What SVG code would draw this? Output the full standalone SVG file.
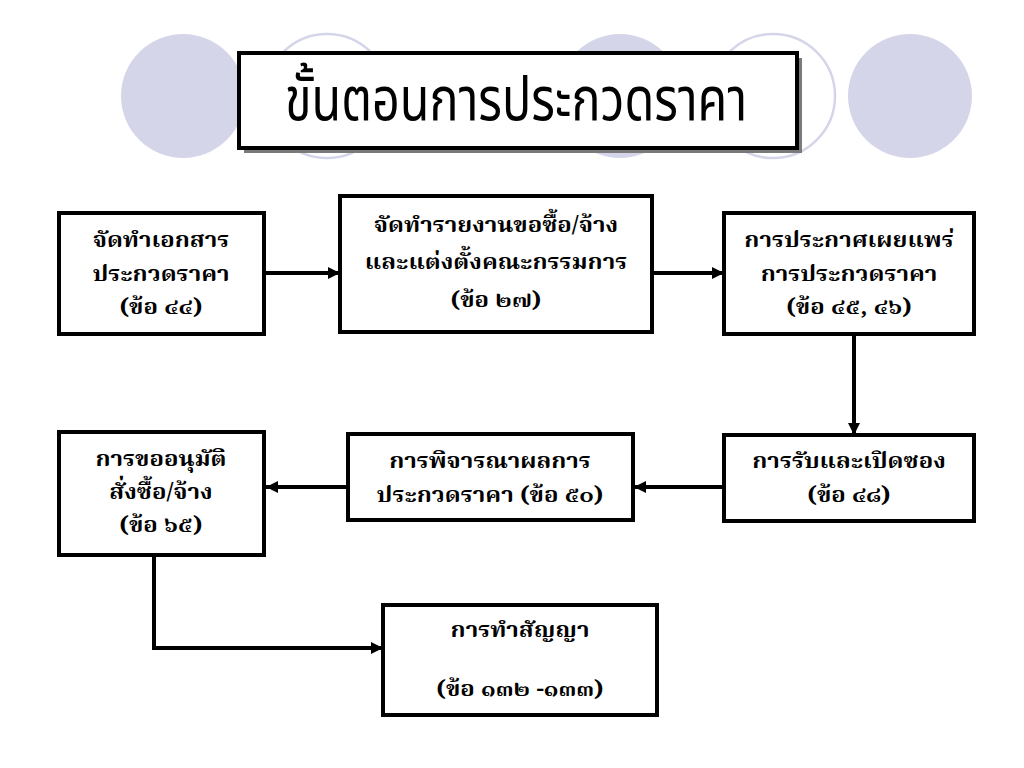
<svg xmlns="http://www.w3.org/2000/svg" width="1024" height="768" viewBox="0 0 1024 768">
<defs>
<style>
.bg{fill:#d5d5ea;}
.ring{fill:none;stroke:#d5d5ea;stroke-width:2.5;}
.box{fill:#fff;stroke:#000;stroke-width:4;}
.t{font-family:"Noto Serif Thai","Norasi","Laksaman","Noto Sans Thai","Noto Sans","DejaVu Sans",sans-serif;font-weight:bold;font-size:22px;fill:#000;text-anchor:middle;}
.title{font-family:"Noto Sans Thai","Noto Sans","DejaVu Sans",sans-serif;font-size:50px;fill:#000;text-anchor:middle;}
.conn{fill:none;stroke:#000;stroke-width:4;}
</style>
<marker id="ah" viewBox="0 0 10 10" refX="10" refY="5" markerWidth="3" markerHeight="3" orient="auto" markerUnits="strokeWidth">
<path d="M0,0 L10,5 L0,10 z" fill="#000"/>
</marker>
</defs>
<rect width="1024" height="768" fill="#fff"/>
<g id="background">
<circle class="bg" cx="183" cy="96" r="62"/>
<circle class="ring" cx="327" cy="96" r="62"/>
<circle class="bg" cx="620" cy="96" r="62"/>
<circle class="ring" cx="773" cy="96" r="62"/>
<circle class="bg" cx="910" cy="96" r="62"/>
</g>
<g id="title">
<rect x="244" y="58" width="558" height="95" fill="#7a7a7a"/>
<rect x="239" y="53" width="558" height="95" fill="#fff" stroke="#000" stroke-width="4"/>
<text class="title" transform="translate(516,120) scale(0.97,1.2)">ขั้นตอนการประกวดราคา</text>
</g>
<g id="connectors">
<line class="conn" x1="264" y1="273" x2="340" y2="273" marker-end="url(#ah)"/>
<line class="conn" x1="652" y1="273" x2="724" y2="273" marker-end="url(#ah)"/>
<line class="conn" x1="854" y1="335" x2="854" y2="435" marker-end="url(#ah)"/>
<line class="conn" x1="724" y1="487" x2="634" y2="487" marker-end="url(#ah)"/>
<line class="conn" x1="348" y1="487" x2="266" y2="487" marker-end="url(#ah)"/>
<polyline class="conn" points="154,555 154,648 383,648" marker-end="url(#ah)"/>
</g>
<g id="node-a">
<rect class="box" x="59" y="213" width="205" height="121"/>
<text class="t" transform="translate(161,247) scale(1.09,1)">จัดทำเอกสาร</text>
<text class="t" transform="translate(161,281) scale(1.09,1)">ประกวดราคา</text>
<text class="t" transform="translate(161,314) scale(1.09,1)">(ข้อ ๔๔)</text>
</g>
<g id="node-b">
<rect class="box" x="340" y="196" width="312" height="136"/>
<text class="t" transform="translate(496,232) scale(1.09,1)">จัดทำรายงานขอซื้อ/จ้าง</text>
<text class="t" transform="translate(496,269) scale(1.09,1)">และแต่งตั้งคณะกรรมการ</text>
<text class="t" transform="translate(496,307) scale(1.09,1)">(ข้อ ๒๗)</text>
</g>
<g id="node-c">
<rect class="box" x="724" y="213" width="250" height="121"/>
<text class="t" transform="translate(849,247) scale(1.09,1)">การประกาศเผยแพร่</text>
<text class="t" transform="translate(849,281) scale(1.09,1)">การประกวดราคา</text>
<text class="t" transform="translate(849,314) scale(1.09,1)">(ข้อ  ๔๕, ๔๖)</text>
</g>
<g id="node-d">
<rect class="box" x="724" y="435" width="250" height="86"/>
<text class="t" transform="translate(849,468) scale(1.09,1)">การรับและเปิดซอง</text>
<text class="t" transform="translate(849,502) scale(1.09,1)">(ข้อ ๔๘)</text>
</g>
<g id="node-e">
<rect class="box" x="348" y="434" width="285" height="86"/>
<text class="t" transform="translate(490,468) scale(1.09,1)">การพิจารณาผลการ</text>
<text class="t" transform="translate(490,502) scale(1.09,1)">ประกวดราคา (ข้อ ๕๐)</text>
</g>
<g id="node-f">
<rect class="box" x="59" y="432" width="205" height="123"/>
<text class="t" transform="translate(161,466) scale(1.09,1)">การขออนุมัติ</text>
<text class="t" transform="translate(161,499) scale(1.09,1)">สั่งซื้อ/จ้าง</text>
<text class="t" transform="translate(161,532) scale(1.09,1)">(ข้อ ๖๕)</text>
</g>
<g id="node-g">
<rect class="box" x="383" y="605" width="274" height="110"/>
<text class="t" transform="translate(520,637) scale(1.09,1)">การทำสัญญา</text>
<text class="t" transform="translate(520,696) scale(1.09,1)">(ข้อ  ๑๓๒ -๑๓๓)</text>
</g>
</svg>
